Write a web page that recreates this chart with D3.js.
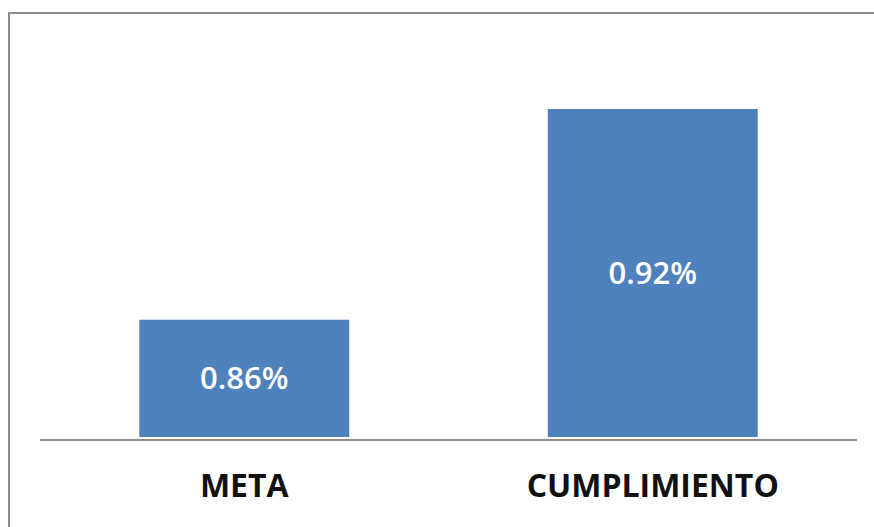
<!DOCTYPE html>
<html>
<head>
	<meta charset="utf-8">
	<title></title>
	<script src="https://cdn.jsdelivr.net/npm/d3@7"></script>
	<style>
		body{margin:0;background:#fff;}
	</style>
</head>
<body>
	<script>
	var w=874;
	var h=527;
	var categories=["META","CUMPLIMIENTO"];
	var values=[0.86,0.92];
	var valueLabels=["0.86%","0.92%"];

	var svg=d3.select("body").append("svg")
		.attr("width",w)
		.attr("height",h);

	// outer frame, runs off the right and bottom edge
	svg.append("path")
		.attr("d","M9,"+h+"V13H"+w)
		.attr("fill","none")
		.attr("stroke","#8c8c8c")
		.attr("stroke-width",2);

	var x=d3.scaleBand()
		.domain(categories)
		.range([40,857])
		.paddingInner(0.486)
		.paddingOuter(0.243);

	// axis doesn't start at zero
	var y=d3.scaleLinear()
		.domain([0.8266,0.92])
		.range([437,109]);

	svg.selectAll("rect.bar")
		.data(values)
		.enter()
		.append("rect")
		.attr("class","bar")
		.attr("x",function(d,i){return x(categories[i]);})
		.attr("y",function(d){return y(d);})
		.attr("width",x.bandwidth())
		.attr("height",function(d){return y.range()[0]-y(d);})
		.attr("fill","#4f81bd");

	svg.append("line")
		.attr("x1",40).attr("x2",857)
		.attr("y1",440).attr("y2",440)
		.attr("stroke","#8c8c8c")
		.attr("stroke-width",2);

	svg.selectAll("text.val")
		.data(values)
		.enter()
		.append("text")
		.attr("class","val")
		.attr("x",function(d,i){return x(categories[i])+x.bandwidth()/2;})
		.attr("y",function(d){return (y(d)+437)/2+11;})
		.attr("text-anchor","middle")
		.attr("fill","#fff")
		.style("font-family","'Open Sans'")
		.style("font-weight","600")
		.style("font-size","31px")
		.text(function(d,i){return valueLabels[i];});

	svg.selectAll("text.cat")
		.data(categories)
		.enter()
		.append("text")
		.attr("class","cat")
		.attr("x",function(d){return x(d)+x.bandwidth()/2;})
		.attr("y",497)
		.attr("text-anchor","middle")
		.attr("fill","#111")
		.style("font-family","'Open Sans'")
		.style("font-weight","700")
		.style("font-size","32px")
		.text(function(d){return d;});
	</script>
</body>
</html>
